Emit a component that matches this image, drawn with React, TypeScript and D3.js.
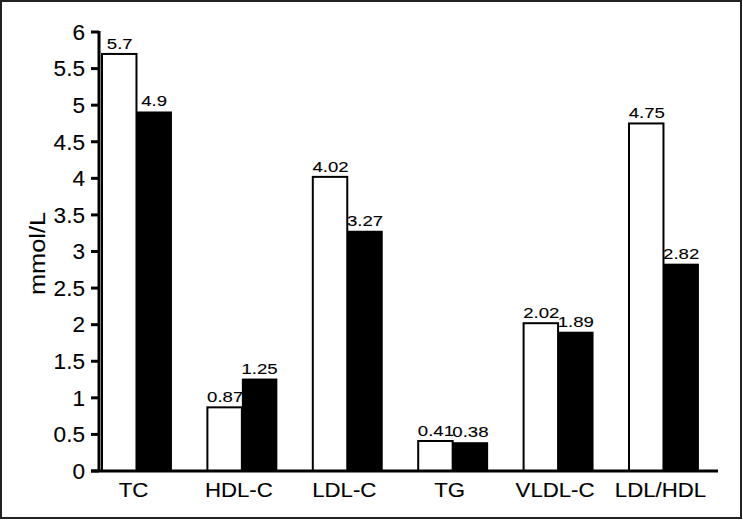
import { useMemo } from 'react'
import * as d3 from 'd3'

const CATEGORIES = ['TC', 'HDL-C', 'LDL-C', 'TG', 'VLDL-C', 'LDL/HDL']
const WHITE_VALUES = [5.7, 0.87, 4.02, 0.41, 2.02, 4.75]
const BLACK_VALUES = [4.9, 1.25, 3.27, 0.38, 1.89, 2.82]
const WHITE_LABELS = ['5.7', '0.87', '4.02', '0.41', '2.02', '4.75']
const BLACK_LABELS = ['4.9', '1.25', '3.27', '0.38', '1.89', '2.82']
const Y_TICKS = [0, 0.5, 1, 1.5, 2, 2.5, 3, 3.5, 4, 4.5, 5, 5.5, 6]
const SERIES = ['white', 'black']

const FONT = '"Liberation Sans", Arial, Helvetica, sans-serif'

// text that is a bit wider than the font gives (the source image is stretched)
function WideText({ x, y, size, sx, anchor = 'middle', children }: any) {
  return (
    <text
      transform={`translate(${x},${y}) scale(${sx},1)`}
      textAnchor={anchor}
      fontSize={size}
      fill="#000"
      stroke="#000"
      strokeWidth={0.1}
    >
      {children}
    </text>
  )
}

export default function App() {
  const width = 743
  const height = 520

  const axisX = 99
  const axisRight = 718
  const step = 105.4
  const pad = 0.327

  const x = useMemo(() => d3.scaleBand()
    .domain(CATEGORIES)
    .range([101, 101 + step * (CATEGORIES.length - pad)])
    .paddingInner(pad)
    .paddingOuter(0), [])

  const xInner = useMemo(() => d3.scaleBand()
    .domain(SERIES)
    .range([0, x.bandwidth()]), [x])

  const y = useMemo(() => d3.scaleLinear()
    .domain([0, 6])
    .range([471, 32]), [])

  return (
    <div style={{ position: 'absolute', left: 0, top: 0 }}>
      <svg width={width} height={height} style={{ display: 'block', fontFamily: FONT }}>
        <rect x={0} y={0} width={width} height={height} fill="#fff" />
        {/* outer frame */}
        <rect x={1} y={1} width={width - 3} height={height - 3} fill="none" stroke="#222" strokeWidth={2} />

        {/* bars */}
        {CATEGORIES.map((c, i) => {
          const x0 = x(c) as number
          const wx = x0 + (xInner('white') as number)
          const bx = x0 + (xInner('black') as number)
          const bw = xInner.bandwidth()
          return (
            <g key={c}>
              <rect
                x={wx + 1}
                y={y(WHITE_VALUES[i])}
                width={bw - 1}
                height={y(0) - y(WHITE_VALUES[i])}
                fill="#fff"
                stroke="#000"
                strokeWidth={2}
              />
              <rect
                x={bx}
                y={y(BLACK_VALUES[i]) - 1}
                width={bw}
                height={y(0) - y(BLACK_VALUES[i]) + 1}
                fill="#000"
              />
              <WideText x={wx + bw / 2 + 1} y={y(WHITE_VALUES[i]) - 5} size={15.5} sx={1.2}>
                {WHITE_LABELS[i]}
              </WideText>
              <WideText x={bx + bw / 2} y={y(BLACK_VALUES[i]) - 6} size={15.5} sx={1.2}>
                {BLACK_LABELS[i]}
              </WideText>
              <WideText x={x0 + x.bandwidth() / 2 - 3} y={497} size={19.5} sx={1.14}>
                {c}
              </WideText>
            </g>
          )
        })}

        {/* y axis */}
        <line x1={axisX} x2={axisX} y1={y(6) - 1} y2={y(0) + 1} stroke="#000" strokeWidth={3} />
        <line x1={axisX - 8} x2={axisRight} y1={y(0)} y2={y(0)} stroke="#000" strokeWidth={3} />
        {Y_TICKS.map(t => (
          <g key={t}>
            <line x1={axisX - 8} x2={axisX} y1={y(t)} y2={y(t)} stroke="#000" strokeWidth={3} />
            <WideText x={axisX - 14} y={y(t) + 7.8} size={21.5} sx={1.05} anchor="end">
              {String(t)}
            </WideText>
          </g>
        ))}

        <text
          transform={`translate(45, ${(y(0) + y(6)) / 2 + 2}) rotate(-90) scale(1.18,1)`}
          textAnchor="middle"
          fontSize={21.5}
          fill="#000"
          stroke="#000"
          strokeWidth={0.1}
        >
          mmol/L
        </text>
      </svg>
    </div>
  )
}
